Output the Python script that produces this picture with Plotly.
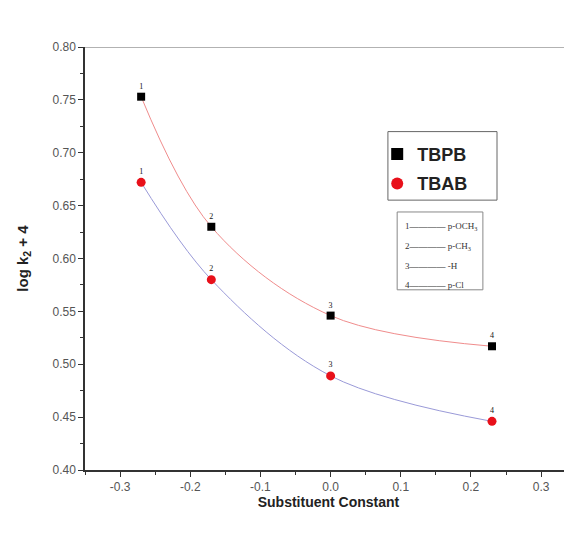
import plotly.graph_objects as go

sigma = [-0.27, -0.17, 0.0, 0.23]
tbpb = [0.753, 0.630, 0.546, 0.517]
tbab = [0.672, 0.580, 0.489, 0.446]
point_labels = ["1", "2", "3", "4"]
key_lines = ["1———— p-OCH<sub>3</sub>", "2———— p-CH<sub>3</sub>", "3———— -H", "4———— p-Cl"]
x_ticks = [-0.3, -0.2, -0.1, 0.0, 0.1, 0.2, 0.3]
x_tick_labels = ["-0.3", "-0.2", "-0.1", "0.0", "0.1", "0.2", "0.3"]
y_ticks = [0.40, 0.45, 0.50, 0.55, 0.60, 0.65, 0.70, 0.75, 0.80]
y_tick_labels = ["0.40", "0.45", "0.50", "0.55", "0.60", "0.65", "0.70", "0.75", "0.80"]

fig = go.Figure()

# fitted curves (smooth spline through the data)
fig.add_trace(go.Scatter(x=sigma, y=tbpb, mode="lines", line=dict(color="#f08c8c", width=1, shape="spline", smoothing=1.0),
                         showlegend=False, hoverinfo="skip"))
fig.add_trace(go.Scatter(x=sigma, y=tbab, mode="lines", line=dict(color="#9a9ad8", width=1, shape="spline", smoothing=1.0),
                         showlegend=False, hoverinfo="skip"))

fig.add_trace(go.Scatter(x=sigma, y=tbpb, mode="markers+text", name="TBPB", legendgroup="a",
                         marker=dict(symbol="square", color="black", size=8),
                         text=point_labels, textposition="top center",
                         textfont=dict(family="Liberation Serif", size=8, color="#111")))
fig.add_trace(go.Scatter(x=sigma, y=tbab, mode="markers+text", name="TBAB", legendgroup="b",
                         marker=dict(symbol="circle", color="#e8101a", size=9),
                         text=point_labels, textposition="top center",
                         textfont=dict(family="Liberation Serif", size=8, color="#111")))

fig.update_layout(
    width=572, height=535,
    margin=dict(l=77, r=8, t=39, b=73),
    plot_bgcolor="white", paper_bgcolor="white",
    font=dict(family="Liberation Sans, Arial", color="#444"),
    legend=dict(x=0.6, y=0.79, xanchor="left", yanchor="top",
                borderwidth=0, bgcolor="rgba(0,0,0,0)",
                font=dict(family="Liberation Sans, Arial", size=18, color="#222", weight="bold"),
                itemsizing="constant", tracegroupgap=3, itemwidth=30),
    showlegend=True,
)

fig.update_xaxes(range=[-0.35, 0.344], tickvals=x_ticks, ticktext=x_tick_labels,
                 showgrid=False, zeroline=False, showline=True, linecolor="#333", linewidth=1.5,
                 ticks="outside", ticklen=5, tickcolor="#333",
                 minor=dict(dtick=0.05, tick0=0, ticks="outside", ticklen=3, tickcolor="#333"),
                 tickfont=dict(size=12, color="#555"),
                 title=dict(text="Substituent Constant", font=dict(size=14, color="#222", weight="bold"), standoff=3))
fig.update_yaxes(range=[0.40, 0.80], tickvals=y_ticks, ticktext=y_tick_labels,
                 showgrid=False, zeroline=False, showline=True, linecolor="#333", linewidth=1.5,
                 ticks="outside", ticklen=5, tickcolor="#333",
                 minor=dict(dtick=0.025, tick0=0, ticks="outside", ticklen=3, tickcolor="#333"),
                 tickfont=dict(size=12, color="#555"),
                 title=dict(text="log k<sub>2</sub> + 4", font=dict(size=15, color="#222", weight="bold"), standoff=20))

# top border line
fig.add_shape(type="line", xref="paper", yref="y", x0=0, x1=1, y0=0.80, y1=0.80,
              line=dict(color="#999", width=1.5))

# legend frame
fig.add_shape(type="rect", xref="paper", yref="paper", x0=0.622, x1=0.846, y0=0.638, y1=0.8,
              line=dict(color="#666", width=1), layer="below")

# key box
fig.add_shape(type="rect", xref="paper", yref="paper", x0=0.641, x1=0.817, y0=0.426, y1=0.61,
              line=dict(color="#888", width=1), fillcolor="white", layer="above")
for i, t in enumerate(key_lines):
    fig.add_annotation(xref="paper", yref="paper", x=0.652, y=0.575 - i * 0.046, xanchor="left", yanchor="middle",
                       text=t, showarrow=False, font=dict(family="Liberation Serif", size=9, color="#333"))

fig.write_html("out.html")
